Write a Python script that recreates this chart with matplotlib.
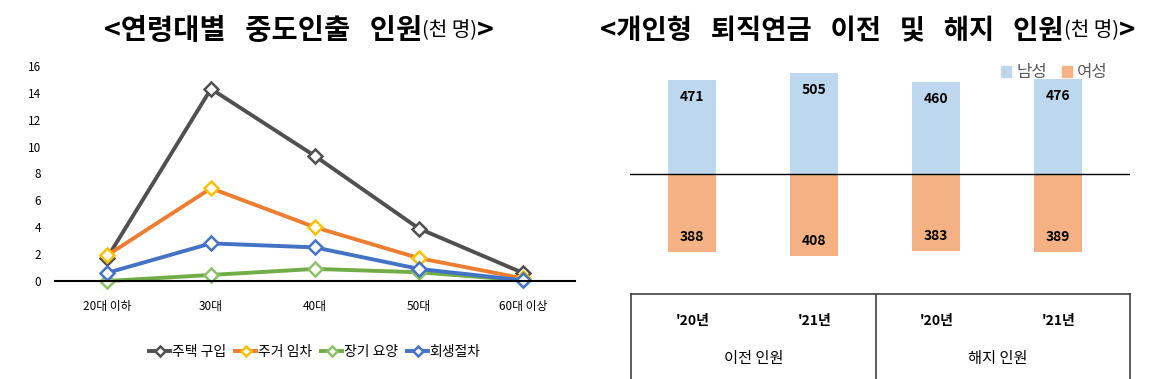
import matplotlib
matplotlib.use("Agg")
import matplotlib.pyplot as plt
from matplotlib.lines import Line2D
from matplotlib.patches import Patch

plt.rcParams['font.family'] = ['Noto Sans CJK KR', 'DejaVu Sans']

# ---- data ----
age_groups = ['20대 이하', '30대', '40대', '50대', '60대 이상']
house_buy = [1.7, 14.3, 9.3, 3.9, 0.6]
house_rent = [1.9, 6.9, 4.0, 1.7, 0.2]
long_care = [0.0, 0.45, 0.9, 0.65, 0.05]
rehab = [0.6, 2.8, 2.5, 0.9, 0.05]
series_names = ['주택 구입', '주거 임차', '장기 요양', '회생절차']

years = ["'20년", "'21년", "'20년", "'21년"]
groups = ['이전 인원', '해지 인원']
male = [471, 505, 460, 476]
female = [388, 408, 383, 389]

W, H = 1155, 379
fig = plt.figure(figsize=(W / 100, H / 100), dpi=100)


def fr(x0, y0, x1, y1):
    return [x0 / W, 1 - y1 / H, (x1 - x0) / W, (y1 - y0) / H]


# ---- left line chart ----
ax = fig.add_axes(fr(55, 66, 575, 281))
xs = list(range(len(age_groups)))
styles = [
    (house_buy, '#505050', '#505050'),
    (house_rent, '#ED7D31', '#FFC000'),
    (long_care, '#70AD47', '#8CC168'),
    (rehab, '#4472C4', '#4472C4'),
]
handles = []
for (vals, c, mc), name in zip(styles, series_names):
    ln, = ax.plot(xs, vals, color=c, lw=2.8, marker='D', ms=7,
                  mfc='white', mec=mc, mew=1.8, label=name, clip_on=False)
    handles.append(ln)
ax.set_xlim(-0.5, 4.5)
ax.set_ylim(0, 16)
ax.set_yticks(range(0, 17, 2))
ax.set_xticks(xs)
ax.set_xticklabels(age_groups)
for s in ['top', 'right', 'left']:
    ax.spines[s].set_visible(False)
ax.spines['bottom'].set_linewidth(1.5)
ax.spines['bottom'].set_color('black')
ax.tick_params(axis='both', length=0, labelsize=8.5)
ax.tick_params(axis='y', pad=10)
ax.tick_params(axis='x', pad=14)
ax.legend(handles=handles, loc='center', bbox_to_anchor=(0.5, -0.33),
          ncol=4, frameon=False, fontsize=10, handlelength=1.5,
          handletextpad=0.1, columnspacing=0.7, markerscale=0.7)

# ---- right bar chart ----
bx = fig.add_axes(fr(630, 60, 1130, 270))
pos = list(range(len(male)))
bx.bar(pos, male, width=0.40, color='#BDD7EE')
bx.bar(pos, [-v for v in female], width=0.40, color='#F4B183')
bx.axhline(0, color='black', lw=1)
bx.set_xlim(-0.508, 3.59)
bx.set_ylim(-480, 570)
bx.axis('off')
for p, m, f in zip(pos, male, female):
    bx.text(p, m - 85, str(m), ha='center', va='center', fontsize=10,
            fontweight='bold')
    bx.text(p, -f + 75, str(f), ha='center', va='center', fontsize=10,
            fontweight='bold')
bx.legend(handles=[Patch(color='#BDD7EE'), Patch(color='#F4B183')],
          labels=['남성', '여성'], loc='upper right',
          bbox_to_anchor=(0.985, 1.05), ncol=2, frameon=False, fontsize=12,
          handlelength=0.6, handleheight=0.6, handletextpad=0.3,
          columnspacing=0.9, labelcolor='#595959')

# ---- table under bars ----
tx = fig.add_axes(fr(631, 294, 1130, 379))
tx.set_xlim(-0.508, 3.59)
tx.set_ylim(0, 85)
tx.set_xticks([])
tx.set_yticks([])
tx.spines['bottom'].set_visible(False)
for s in ['top', 'left', 'right']:
    tx.spines[s].set_color('#404040')
    tx.spines[s].set_linewidth(1.2)
tx.axvline(1.5, color='#404040', lw=1.2)
for p, y in zip(pos, years):
    tx.text(p, 85 - 27, y, ha='center', va='center', fontsize=10,
            fontweight='bold')
for i, g in enumerate(groups):
    tx.text(2 * i + 0.5, 85 - 64, g, ha='center', va='center', fontsize=11)


# ---- titles ----
def title(parts, x0, cy):
    fig.canvas.draw()
    r = fig.canvas.get_renderer()
    texts = []
    for s, size, wt in parts:
        t = fig.text(0, cy / H, s, fontsize=size, fontweight=wt,
                     va='center', ha='left')
        texts.append(t)
    widths = [t.get_window_extent(r).width for t in texts]
    x = x0
    for t, w in zip(texts, widths):
        t.set_x(x / W)
        x += w


title([('<연령대별   중도인출   인원', 20.5, 'bold'), ('(천 명)', 14.5, 'normal'),
       ('>', 20.5, 'bold')], 104, 379 - 31)
title([('<개인형   퇴직연금   이전   및   해지   인원', 19.75, 'bold'),
       ('(천 명)', 14.5, 'normal'), ('>', 19.75, 'bold')], 600, 379 - 31)

fig.savefig('out.png', dpi=100)
